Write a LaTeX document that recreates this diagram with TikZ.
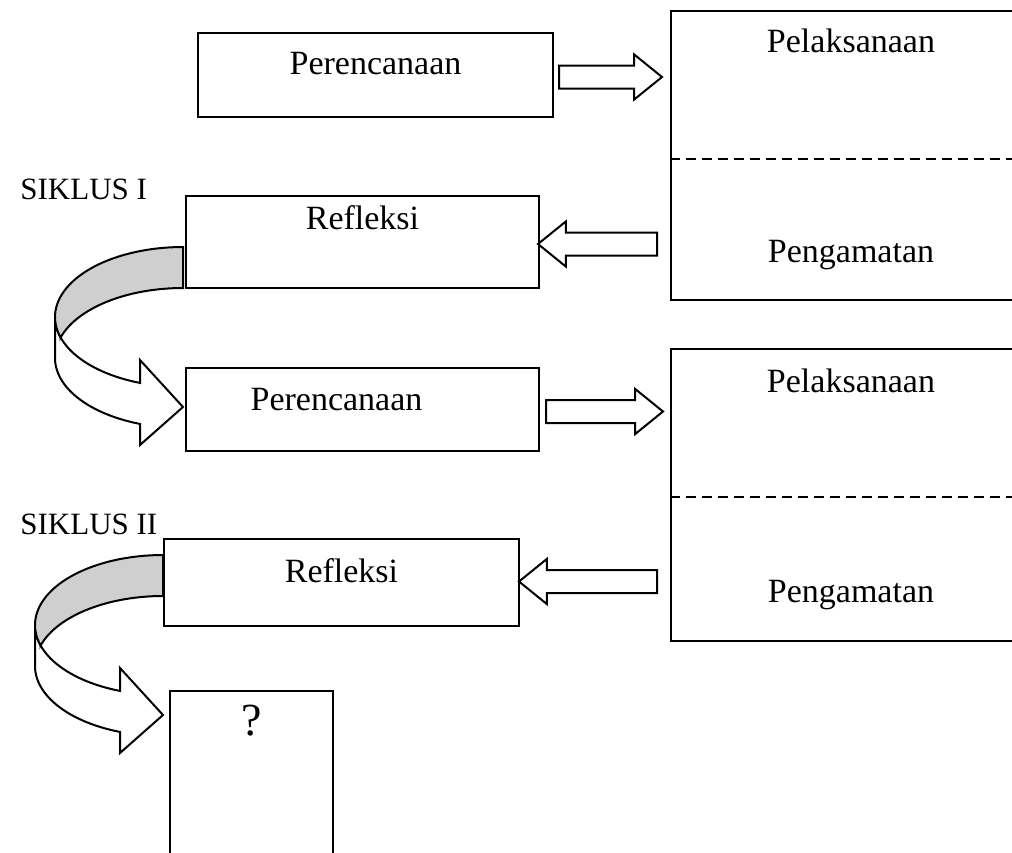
\documentclass[tikz,border=0pt]{standalone}
\usepackage{fontspec}
\setmainfont{Liberation Serif}
\usetikzlibrary{calc,shapes.arrows}

\begin{document}
\begin{tikzpicture}[x=0.5pt,y=-0.5pt,
    box/.style={draw, line width=1pt, anchor=north west, inner sep=0pt},
    txt/.style={font=\fontsize{17}{20}\selectfont, inner sep=0pt, text height=1.6ex, text depth=0.4ex},
    blockr/.style={draw, line width=1pt, single arrow, anchor=tail, inner sep=5.25pt,
      single arrow head extend=5.5pt, single arrow tip angle=78},
    blockl/.style={blockr, shape border rotate=180},
    dashline/.style={line width=1pt, dash pattern=on 5pt off 3pt}]
  \useasboundingbox (0,0) rectangle (1012,852);
  \clip (0,0) rectangle (1012,852);

  % siklus I
  \node[box, minimum width=177.5pt, minimum height=42pt] (plnA) at (197,32) {};
  \node[box, minimum width=180pt, minimum height=144.5pt] (pelA) at (670,10) {};
  \node[box, minimum width=176.5pt, minimum height=46pt] (refA) at (185,195) {};
  \draw[dashline] ($(pelA.north west)+(0,149)$) -- ($(pelA.north east)+(0,149)$);
  \node[txt] (plnA-t) at ($(plnA.north)+(0,37)$) {Perencanaan};
  \node[txt] (pelA-t) at ($(pelA.north)+(0,37)$) {Pelaksanaan};
  \node[txt] (ngmA-t) at ($(pelA.north)+(0,247)$) {Pengamatan};
  \node[txt] (refA-t) at ($(refA.north)+(0,29)$) {Refleksi};
  \node[txt, font=\fontsize{15.5}{18}\selectfont, anchor=west] (sikA) at (20,194) {SIKLUS I};

  % siklus II
  \node[box, minimum width=176.5pt, minimum height=41.5pt] (plnB) at (185,367) {};
  \node[box, minimum width=180pt, minimum height=146pt] (pelB) at (670,348) {};
  \node[box, minimum width=177.5pt, minimum height=43.5pt] (refB) at (163,538) {};
  \draw[dashline] ($(pelB.north west)+(0,149)$) -- ($(pelB.north east)+(0,149)$);
  \node[txt] (plnB-t) at ($(plnB.north)+(-26,38)$) {Perencanaan};
  \node[txt] (pelB-t) at ($(pelB.north)+(0,39)$) {Pelaksanaan};
  \node[txt] (ngmB-t) at ($(pelB.north)+(0,249)$) {Pengamatan};
  \node[txt] (refB-t) at ($(refB.north)+(0,39)$) {Refleksi};
  \node[txt, font=\fontsize{15.5}{18}\selectfont, anchor=west] (sikB) at (20,529) {SIKLUS II};

  \node[box, minimum width=81.5pt, minimum height=110pt] (qbox) at (169,690) {};
  \node[txt, font=\fontsize{23}{26}\selectfont] (qbox-t) at ($(qbox.north)+(0,40)$) {?};

  % block arrows
  \node[blockr, minimum height=51.5pt] (arrA) at ($(plnA.east)+(4,2)$) {};
  \node[blockl, minimum height=59.5pt] (arrB) at ($(pelA.west |- refA.east)+(-12,2)$) {};
  \node[blockr, minimum height=58.5pt] (arrC) at ($(plnB.east)+(5,2)$) {};
  \node[blockl, minimum height=69pt] (arrD) at ($(pelB.west |- refB.east)+(-12,-1)$) {};

  % curved arrows
  \foreach \dx/\dy in {0/0,-20/308} {
    \begin{scope}[shift={(\dx,\dy)}, line width=1pt]
      \filldraw[fill=white] (55,317) -- (55,358)
        -- plot[domain=180:109.6, samples=30] ({183+128*cos(\x)},{358+70*sin(\x)})
        -- (140,445) -- (183,407) -- (140,360)
        -- plot[domain=109.6:180, samples=30] ({183+128*cos(\x)},{317+70*sin(\x)}) -- cycle;
      \filldraw[fill=gray!38]
        plot[domain=270:163, samples=40] ({183+128*cos(\x)},{317+70*sin(\x)})
        -- plot[domain=197:270, samples=30] ({183+128*cos(\x)},{358+70*sin(\x)}) -- cycle;
    \end{scope}
  }
\end{tikzpicture}
\end{document}
